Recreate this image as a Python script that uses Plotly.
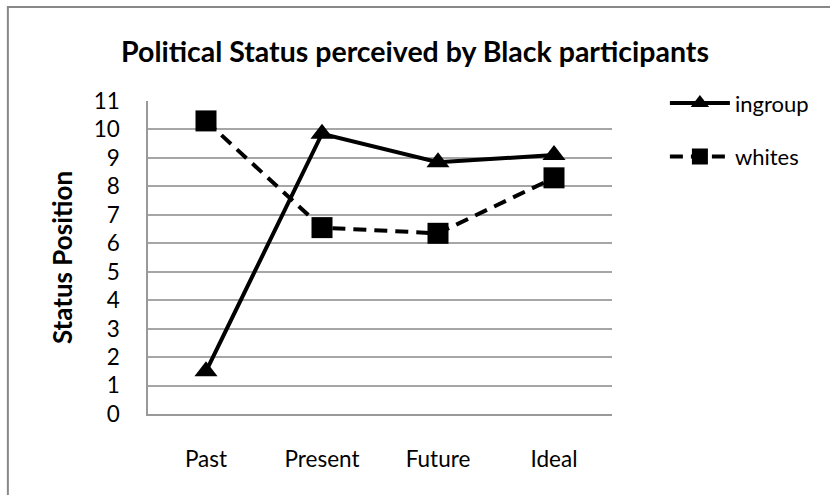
import plotly.graph_objects as go

categories = ["Past", "Present", "Future", "Ideal"]
ingroup = [1.5, 9.85, 8.85, 9.1]
whites = [10.3, 6.55, 6.35, 8.3]
y_ticks = list(range(0, 12))

fig = go.Figure()
fig.add_trace(go.Scatter(
    x=categories, y=ingroup, name="ingroup", mode="lines+markers",
    legendgroup="g1",
    line=dict(color="black", width=4),
    marker=dict(symbol="triangle-up", size=20, color="black"),
))
fig.add_trace(go.Scatter(
    x=categories, y=whites, name="whites", mode="lines+markers",
    legendgroup="g2",
    line=dict(color="black", width=4, dash="13px,8px"),
    marker=dict(symbol="square", size=21, color="black"),
))

# outer chart frame
fig.add_shape(type="rect", xref="paper", yref="paper",
              x0=-0.302, x1=1.6, y0=-0.4, y1=1.3,
              line=dict(color="#888888", width=2), layer="below")

fig.update_layout(
    width=830, height=495,
    margin=dict(l=148, r=218, t=101, b=81),
    paper_bgcolor="white", plot_bgcolor="white",
    font=dict(family="Lato, Open Sans, sans-serif", size=22, color="black"),
    title=dict(text="<b>Political Status perceived by Black participants</b>",
               x=0.5, xanchor="center", y=0.895, yanchor="middle",
               font=dict(size=28.5)),
    showlegend=True,
    legend=dict(x=1.114, y=1.06, xanchor="left", yanchor="top",
                font=dict(size=22), tracegroupgap=22, itemwidth=60,
                bgcolor="rgba(0,0,0,0)"),
    xaxis=dict(type="category", range=[-0.5, 3.5], showgrid=False,
               showline=True, linecolor="#999999", linewidth=1.5,
               ticks="", ticklabelstandoff=24, tickfont=dict(size=22.5)),
    yaxis=dict(range=[0, 11], tickvals=y_ticks, showgrid=True,
               gridcolor="#a6a6a6", gridwidth=1.5, showline=True,
               linecolor="#999999", linewidth=1.5, zeroline=False,
               ticks="", ticklabelstandoff=22, tickfont=dict(size=22.5),
               title=dict(text="<b>Status Position</b>", font=dict(size=26),
                          standoff=14)),
)

fig.write_html("out.html")
